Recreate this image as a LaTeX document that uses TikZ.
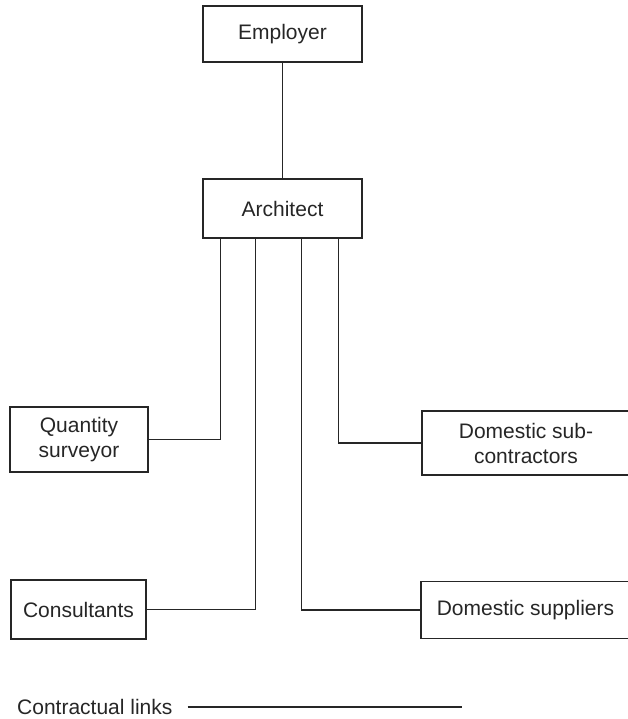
\documentclass[tikz,border=0pt]{standalone}
\usepackage{fontspec}
\setmainfont{Liberation Sans}
\usetikzlibrary{positioning}

\tikzset{
  party/.style={draw, line width=1.1pt, align=center, inner sep=0pt,
    font=\fontsize{21}{25}\selectfont},
  link/.style={line width=1.1pt}
}

\begin{document}
\begin{tikzpicture}[x=1pt, y=-1pt, color=black!85]
\useasboundingbox (0,0) rectangle (627,719);
% parties
\node[party, minimum width=159, minimum height=56] (emp) at (282.5,34) {Employer};
\node[party, minimum width=159, minimum height=59] (arch) at (282.5,208.5) {Architect};
\node[party, minimum width=138, minimum height=65] (qs) at (79,439.5) {Quantity\\surveyor};
\node[party, minimum width=208, minimum height=64] (dsc) at (526,443) {Domestic sub-\\contractors};
\node[party, minimum width=209, minimum height=57] (dsup) at (525.5,610) {Domestic suppliers};
\node[party, minimum width=135, minimum height=59] (cons) at (78.5,609.5) {Consultants};
% links
\draw[link] (emp.south) -- (arch.north);
\draw[link] (arch.south west) ++(18,0) |- (qs.east);
\draw[link] (arch.south west) ++(53,0) |- (cons.east);
\draw[link] (arch.south west) ++(99,0) |- (dsup.west);
\draw[link] (arch.south west) ++(136,0) |- (dsc.west);
% key
\node[font=\fontsize{21}{25}\selectfont, anchor=west, inner sep=0pt] (key) at (17,706.5) {Contractual links};
\coordinate (keyend) at (462,707);
\draw[link] (key.east |- keyend) ++(15,0) -- (keyend);
\end{tikzpicture}
\end{document}
